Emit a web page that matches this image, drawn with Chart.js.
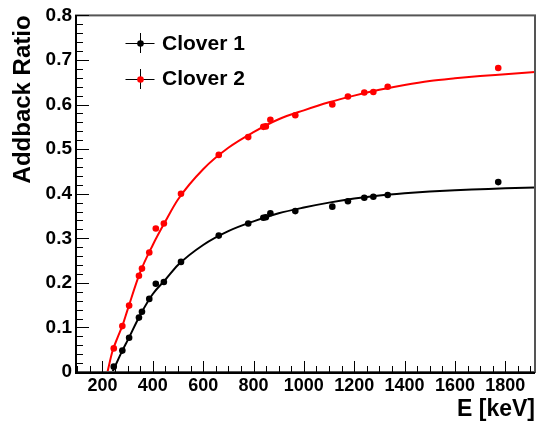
<!DOCTYPE html>
<html>
<head>
<meta charset="utf-8">
<script src="https://cdn.jsdelivr.net/npm/chart.js@4.4.1/dist/chart.umd.min.js"></script>
<style>
    body { margin: 0; background: #fff; }
    canvas { display: block; }
</style>
</head>
<body>
<canvas id="grafico" width="543" height="426"></canvas>
<script>
// energias das linhas gama (keV), iguais para os dois clovers
var energias = [245, 279, 306, 345, 357, 386, 412, 444, 512, 662, 779, 839, 849, 867, 966, 1113, 1175, 1240, 1276, 1333, 1772];
var razaoClover1 = [0.012, 0.048, 0.077, 0.122, 0.135, 0.164, 0.198, 0.202, 0.247, 0.306, 0.333, 0.346, 0.347, 0.356, 0.361, 0.371, 0.383, 0.391, 0.393, 0.397, 0.426];
var razaoClover2 = [0.053, 0.103, 0.149, 0.216, 0.232, 0.268, 0.322, 0.333, 0.400, 0.487, 0.527, 0.550, 0.551, 0.566, 0.576, 0.600, 0.618, 0.627, 0.628, 0.640, 0.682];

// curvas de ajuste
var energiasAjuste1 = [240, 260, 280, 300, 350, 400, 450, 500, 600, 700, 800, 900, 1000, 1100, 1200, 1300, 1400, 1500, 1600, 1700, 1800, 1918];
var ajusteClover1 = [0, 0.025, 0.049, 0.071, 0.128, 0.175, 0.207, 0.240, 0.285, 0.316, 0.338, 0.356, 0.369, 0.380, 0.389, 0.396, 0.401, 0.405, 0.408, 0.410, 0.412, 0.414];
var energiasAjuste2 = [220, 240, 260, 280, 300, 350, 400, 450, 500, 600, 700, 800, 900, 1000, 1100, 1200, 1300, 1400, 1500, 1600, 1700, 1800, 1918];
var ajusteClover2 = [0, 0.047, 0.077, 0.105, 0.140, 0.224, 0.285, 0.338, 0.387, 0.455, 0.503, 0.538, 0.567, 0.587, 0.605, 0.620, 0.633, 0.644, 0.653, 0.659, 0.664, 0.668, 0.673];

var ticksX = [200, 400, 600, 800, 1000, 1200, 1400, 1600, 1800];
var ticksY = [0, 0.1, 0.2, 0.3, 0.4, 0.5, 0.6, 0.7, 0.8];
var legendas = ['Clover 1', 'Clover 2'];
var cores = ['#000000', '#ff0000'];

var fonte = "'Liberation Sans', Arial, Helvetica, sans-serif";

function pontos(xs, ys) {
    var lista = [];
    for (var i = 0; i < xs.length; i++) {
        lista.push({ x: xs[i], y: ys[i] });
    }
    return lista;
}

// moldura e ticks para dentro, no estilo do ROOT
var pluginEixos = {
    id: 'eixos',
    afterDraw: function (chart) {
        var ctx = chart.ctx;
        var a = chart.chartArea;
        var sx = chart.scales.x;
        var sy = chart.scales.y;
        ctx.save();

        ctx.strokeStyle = '#555';
        ctx.lineWidth = 2;
        ctx.strokeRect(a.left, a.top, a.right - a.left, a.bottom - a.top);

        var esq = Math.round(a.left);
        var base = Math.round(a.bottom);
        ctx.fillStyle = '#000';
        ctx.fillRect(esq - 1, Math.round(a.top), 2, base - Math.round(a.top) + 1);
        ctx.fillRect(esq - 1, base, Math.round(a.right) - esq + 1, 2);

        // ticks do eixo x (a cada 50 keV, maiores a cada 200)
        for (var v = 100; v <= 1900; v += 50) {
            var px = Math.round(sx.getPixelForValue(v));
            if (px < a.left || px > a.right) continue;
            var lx = (v % 200 == 0) ? 11 : 6;
            ctx.fillRect(px, base - lx, 1, lx);
        }
        // ticks do eixo y (a cada 0.02, maiores a cada 0.1)
        for (var k = 0; k <= 40; k++) {
            var py = Math.round(sy.getPixelForValue(k * 0.02));
            var ly = (k % 5 == 0) ? 13 : 7;
            ctx.fillRect(esq, py, ly, 1);
        }

        // legenda
        for (var i = 0; i < legendas.length; i++) {
            var cy = 43 + i * 35.5;
            var cx = 140;
            ctx.fillStyle = '#000';
            ctx.fillRect(cx - 14.5, Math.round(cy), 29, 1);
            ctx.fillRect(cx, Math.round(cy) - 10, 1, 20);
            ctx.fillStyle = cores[i];
            ctx.beginPath();
            ctx.arc(cx + 0.5, Math.round(cy) + 0.5, 3.3, 0, Math.PI * 2);
            ctx.fill();
            ctx.fillStyle = '#000';
            ctx.font = 'bold 21px ' + fonte;
            ctx.textAlign = 'left';
            ctx.textBaseline = 'middle';
            ctx.fillText(legendas[i], 162, cy + 1);
        }
        ctx.restore();
    }
};

var dados = {
    datasets: [
        {
            label: legendas[0],
            data: pontos(energias, razaoClover1),
            backgroundColor: cores[0],
            borderWidth: 0,
            pointRadius: 3.3,
            showLine: false
        },
        {
            label: legendas[1],
            data: pontos(energias, razaoClover2),
            backgroundColor: cores[1],
            borderWidth: 0,
            pointRadius: 3.3,
            showLine: false
        },
        {
            label: 'ajuste 1',
            data: pontos(energiasAjuste1, ajusteClover1),
            borderColor: cores[0],
            borderWidth: 2,
            pointRadius: 0,
            showLine: true,
            cubicInterpolationMode: 'monotone'
        },
        {
            label: 'ajuste 2',
            data: pontos(energiasAjuste2, ajusteClover2),
            borderColor: cores[1],
            borderWidth: 2,
            pointRadius: 0,
            showLine: true,
            cubicInterpolationMode: 'monotone'
        }
    ]
};

var config = {
    type: 'scatter',
    data: dados,
    options: {
        responsive: false,
        animation: false,
        devicePixelRatio: 1,
        layout: { padding: { top: 15, right: 8, left: 0, bottom: 0 } },
        plugins: {
            legend: { display: false },
            tooltip: { enabled: false }
        },
        scales: {
            x: {
                type: 'linear',
                min: 95,
                max: 1918,
                afterBuildTicks: function (s) {
                    s.ticks = ticksX.map(function (v) { return { value: v }; });
                },
                afterFit: function (s) { s.height = 54; },
                grid: { display: false, drawTicks: false },
                border: { display: false },
                ticks: {
                    autoSkip: false,
                    maxRotation: 0,
                    padding: 3,
                    color: '#000',
                    font: { family: fonte, size: 18, weight: 'bold' },
                    callback: function (v) { return String(v); }
                },
                title: {
                    display: true,
                    text: 'E [keV]',
                    align: 'end',
                    color: '#000',
                    font: { family: fonte, size: 23, weight: 'bold' },
                    padding: { top: 0, bottom: 3 }
                }
            },
            y: {
                min: 0,
                max: 0.8,
                afterBuildTicks: function (s) {
                    s.ticks = ticksY.map(function (v) { return { value: v }; });
                },
                afterFit: function (s) { s.width = 76; },
                grid: { display: false, drawTicks: false },
                border: { display: false },
                ticks: {
                    padding: 4,
                    color: '#000',
                    font: { family: fonte, size: 19, weight: 'bold' },
                    callback: function (v) { return v == 0 ? '0' : v.toFixed(1); }
                },
                title: {
                    display: true,
                    text: 'Addback Ratio',
                    align: 'end',
                    color: '#000',
                    font: { family: fonte, size: 24, weight: 'bold' },
                    padding: { top: 9, bottom: 0 }
                }
            }
        }
    },
    plugins: [pluginEixos]
};

var meuGrafico = new Chart(document.getElementById('grafico'), config);
</script>
</body>
</html>
